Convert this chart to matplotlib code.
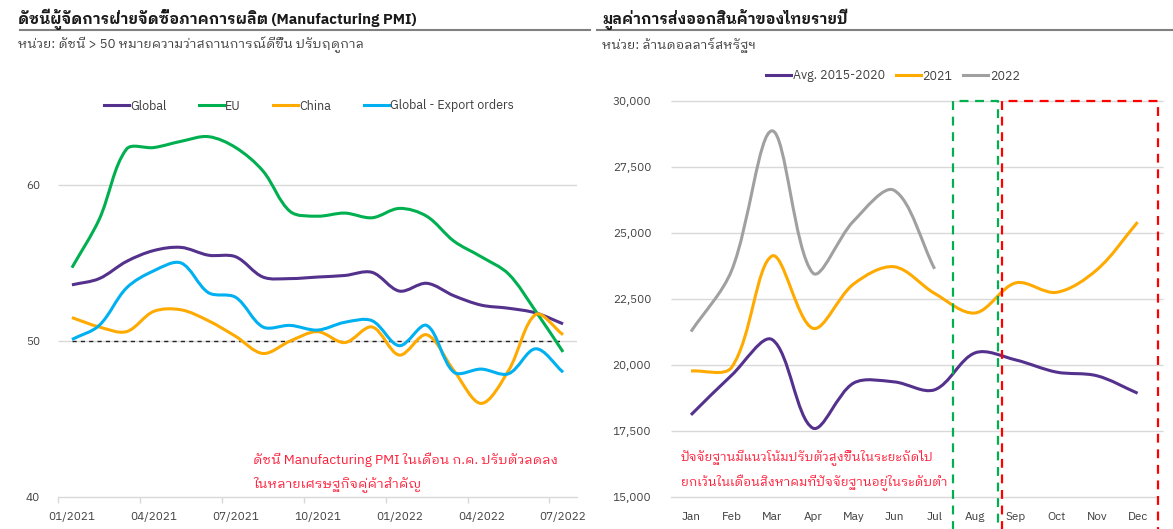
import matplotlib
matplotlib.use("Agg")
import matplotlib.pyplot as plt
from matplotlib import font_manager as fm
from matplotlib.path import Path
from matplotlib.patches import PathPatch
from matplotlib.lines import Line2D
import numpy as np

# ---------------- data ----------------
pmi_months = ["01/2021", "02/2021", "03/2021", "04/2021", "05/2021", "06/2021",
              "07/2021", "08/2021", "09/2021", "10/2021", "11/2021", "12/2021",
              "01/2022", "02/2022", "03/2022", "04/2022", "05/2022", "06/2022", "07/2022"]
pmi_global = [53.6, 54.0, 55.1, 55.8, 56.0, 55.5, 55.4, 54.1, 54.0, 54.1, 54.2, 54.4,
              53.2, 53.7, 52.9, 52.3, 52.1, 51.8, 51.1]
pmi_eu = [54.7, 57.8, 62.3, 62.4, 62.8, 63.1, 62.4, 60.9, 58.3, 58.0, 58.2, 57.9,
          58.5, 58.0, 56.4, 55.4, 54.3, 51.9, 49.3]
pmi_china = [51.5, 50.9, 50.6, 51.9, 52.0, 51.3, 50.3, 49.2, 50.0, 50.6, 49.9, 50.9,
             49.1, 50.4, 48.1, 46.0, 48.1, 51.7, 50.4]
pmi_export = [50.1, 51.0, 53.4, 54.5, 55.0, 53.1, 52.8, 50.9, 51.0, 50.7, 51.2, 51.3,
              49.7, 51.0, 48.0, 48.2, 47.9, 49.5, 48.0]
pmi_threshold = 50
pmi_yticks = [40, 50, 60]

exp_months = ["Jan", "Feb", "Mar", "Apr", "May", "Jun", "Jul", "Aug", "Sep", "Oct", "Nov", "Dec"]
exp_avg = [18100, 19600, 20950, 17600, 19300, 19350, 19050, 20450, 20180, 19720, 19580, 18920]
exp_2021 = [19760, 19900, 24120, 21380, 23050, 23710, 22700, 21960, 23100, 22740, 23600, 25400]
exp_2022 = [21254, 23566, 28859, 23476, 25434, 26607, 23631]
exp_yticks = [15000, 17500, 20000, 22500, 25000, 27500, 30000]
green_box_month = "Aug"
red_box_months = ["Sep", "Dec"]

# ---------------- fonts ----------------
names = {f.name for f in fm.fontManager.ttflist}
pref = ['IBM Plex Sans Thai Looped', 'Noto Sans Thai Looped', 'Sarabun', 'Noto Sans Thai', 'Anuphan']
thai = next((n for n in pref if n in names), None)
plt.rcParams['font.family'] = ([thai] if thai else []) + ['DejaVu Sans']

C_PURPLE = "#54318C"
C_GREEN = "#00B050"
C_ORANGE = "#FFAA00"
C_BLUE = "#00B0F0"
C_GRAY = "#A0A0A0"
C_RED = "#FF1F3A"
C_TXT = "#404040"
C_GRID = "#D9D9D9"

W, H = 1173, 529
fig = plt.figure(figsize=(W / 100, H / 100), dpi=100)


def fx(px):
    return px / W


def fy(py):
    return 1 - py / H


def smooth_path(ax, x, y):
    P = np.column_stack([np.asarray(x, float), np.asarray(y, float)])
    D = ax.transData.transform(P)
    n = len(P)
    verts = [P[0]]
    codes = [Path.MOVETO]
    for i in range(n - 1):
        i0 = i - 1 if i > 0 else i
        i3 = i + 2 if i + 2 < n else i + 1
        p0, p1, p2, p3 = P[i0], P[i], P[i + 1], P[i3]
        d01 = np.hypot(*(D[i] - D[i0]))
        d12 = np.hypot(*(D[i + 1] - D[i]))
        d23 = np.hypot(*(D[i3] - D[i + 1]))
        f1 = d12 / (d01 + d12) / 3.0 if d01 + d12 > 0 else 0
        f2 = d12 / (d12 + d23) / 3.0 if d12 + d23 > 0 else 0
        c1 = p1 + (p2 - p0) * f1
        c2 = p2 - (p3 - p1) * f2
        verts += [c1, c2, p2]
        codes += [Path.CURVE4] * 3
    return Path(verts, codes)


def draw_smooth(ax, x, y, color, lw=2.2):
    ax.add_patch(PathPatch(smooth_path(ax, x, y), fill=False, edgecolor=color, lw=lw,
                           capstyle='butt', joinstyle='round', zorder=3))


# ---------------- left chart ----------------
axL = fig.add_axes([fx(58.3), fy(497), fx(576.7 - 58.3), (497 - 91.4) / H])
xL = np.arange(len(pmi_months))
axL.set_xlim(-0.5, len(pmi_months) - 0.5)
axL.set_ylim(40, 66)
axL.hlines(pmi_yticks[1:], -0.5, len(pmi_months) - 0.5, color=C_GRID, lw=1, zorder=1)
axL.plot([xL[0], xL[-1]], [pmi_threshold, pmi_threshold], color="#222222", lw=1,
         ls=(0, (3, 3)), zorder=2)
draw_smooth(axL, xL, pmi_global, C_PURPLE)
draw_smooth(axL, xL, pmi_eu, C_GREEN)
draw_smooth(axL, xL, pmi_china, C_ORANGE)
draw_smooth(axL, xL, pmi_export, C_BLUE)
for s in ["top", "right", "left"]:
    axL.spines[s].set_visible(False)
axL.spines["bottom"].set_color(C_GRID)
axL.spines["bottom"].set_linewidth(1)
axL.set_yticks(pmi_yticks)
axL.tick_params(axis='y', length=0, pad=13, labelsize=8.5, labelcolor=C_TXT)
axL.set_xticks(xL[::3])
axL.set_xticklabels(pmi_months[::3])
axL.set_xticks(np.arange(-0.5, len(pmi_months) - 0.5, 3), minor=True)
axL.tick_params(axis='x', which='major', length=0, pad=11, labelsize=8.5, labelcolor=C_TXT)
axL.tick_params(axis='x', which='minor', length=4, color=C_GRID, width=1)

legL = [Line2D([], [], color=c, lw=2.2) for c in (C_PURPLE, C_GREEN, C_ORANGE, C_BLUE)]
fig.legend(legL, ["Global", "EU", "China", "Global - Export orders"], loc='center',
           bbox_to_anchor=(fx(309), fy(106)), ncol=4, frameon=False, fontsize=9,
           handlelength=2.0, handletextpad=0.1, columnspacing=2.6, labelcolor=C_TXT)

# ---------------- right chart ----------------
axR = fig.add_axes([fx(670.7), fy(496.7), fx(1157.9 - 670.7), (496.7 - 100.7) / H])
xR = np.arange(len(exp_months))
axR.set_xlim(-0.5, len(exp_months) - 0.5)
axR.set_ylim(exp_yticks[0], exp_yticks[-1])
axR.hlines(exp_yticks[1:], -0.5, len(exp_months) - 0.5 + 0.12, color=C_GRID, lw=1,
           zorder=1, clip_on=False)
draw_smooth(axR, xR, exp_avg, C_PURPLE)
draw_smooth(axR, xR, exp_2021, C_ORANGE)
draw_smooth(axR, xR[:len(exp_2022)], exp_2022, C_GRAY)
for s in ["top", "right", "left"]:
    axR.spines[s].set_visible(False)
axR.spines["bottom"].set_color(C_GRID)
axR.spines["bottom"].set_linewidth(1)
axR.set_yticks(exp_yticks)
axR.set_yticklabels([f"{v:,}" for v in exp_yticks])
axR.tick_params(axis='y', length=0, pad=14, labelsize=8.5, labelcolor=C_TXT)
axR.set_xticks(xR)
axR.set_xticklabels(exp_months)
axR.tick_params(axis='x', length=0, pad=11, labelsize=8.5, labelcolor=C_TXT)

# highlight boxes (dashed, open at the bottom)
ybot = exp_yticks[0] - 2500
ytop = exp_yticks[-1]
gi = exp_months.index(green_box_month)
g0, g1 = gi - 0.55, gi + 0.57
r0, r1 = exp_months.index(red_box_months[0]) - 0.35, exp_months.index(red_box_months[1]) + 0.5
for (a, b, c) in ((g0, g1, C_GREEN), (r0, r1, "#FF0000")):
    axR.plot([a, a, b, b], [ybot, ytop, ytop, ybot], color=c, lw=1.6,
             ls=(0, (4, 3)), clip_on=False, zorder=4)

legR = [Line2D([], [], color=c, lw=2.2) for c in (C_PURPLE, C_ORANGE, C_GRAY)]
fig.legend(legR, ["Avg. 2015-2020", "2021", "2022"], loc='center',
           bbox_to_anchor=(fx(893), fy(76)), ncol=3, frameon=False, fontsize=9,
           handlelength=2.0, handletextpad=0.1, columnspacing=0.9, labelcolor=C_TXT)

# ---------------- titles ----------------
fig.text(fx(18), fy(19), "ดัชนีผู้จัดการฝ่ายจัดซื้อภาคการผลิต (Manufacturing PMI)",
         fontsize=10.8, fontweight='bold', color="#1a1a1a", va='center', ha='left')
fig.text(fx(18), fy(45), "หน่วย: ดัชนี > 50 หมายความว่าสถานการณ์ดีขึ้น ปรับฤดูกาล",
         fontsize=9.5, color=C_TXT, va='center', ha='left')
fig.text(fx(602), fy(19), "มูลค่าการส่งออกสินค้าของไทยรายปี",
         fontsize=10.8, fontweight='bold', color="#1a1a1a", va='center', ha='left')
fig.text(fx(602), fy(45), "หน่วย: ล้านดอลลาร์สหรัฐฯ",
         fontsize=9.5, color=C_TXT, va='center', ha='left')
fig.add_artist(Line2D([fx(20), fx(590)], [fy(30), fy(30)], color="#808080", lw=1.5))
fig.add_artist(Line2D([fx(597), fx(1173)], [fy(30), fy(30)], color="#808080", lw=1.5))

# ---------------- annotations ----------------
fig.text(fx(253), fy(460), "ดัชนี Manufacturing PMI ในเดือน ก.ค. ปรับตัวลดลง",
         fontsize=9.7, color=C_RED, va='center', ha='left')
fig.text(fx(253), fy(484), "ในหลายเศรษฐกิจคู่ค้าสำคัญ",
         fontsize=9.7, color=C_RED, va='center', ha='left')
fig.text(fx(681), fy(458), "ปัจจัยฐานมีแนวโน้มปรับตัวสูงขึ้นในระยะถัดไป",
         fontsize=9.1, color=C_RED, va='center', ha='left')
fig.text(fx(681), fy(483), "ยกเว้นในเดือนสิงหาคมที่ปัจจัยฐานอยู่ในระดับต่ำ",
         fontsize=9.1, color=C_RED, va='center', ha='left')

fig.savefig("out.png", dpi=100)
